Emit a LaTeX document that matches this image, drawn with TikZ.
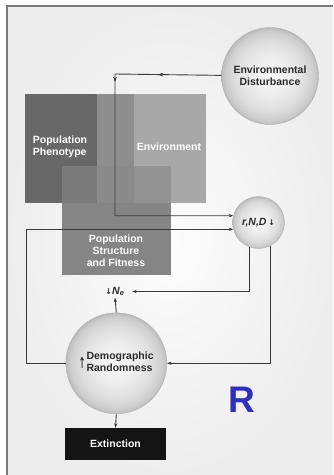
\documentclass[tikz,border=0pt]{standalone}
\usepackage{fontspec}
\usepackage{graphicx}
\setmainfont{Liberation Sans}
\newfontfamily\sym{DejaVu Sans}
\usetikzlibrary{arrows.meta,decorations.markings}
\definecolor{lnc}{HTML}{3A3A3A}
\definecolor{txc}{HTML}{2C2C2C}
\definecolor{phenc}{HTML}{686868}
\definecolor{envc}{HTML}{A8A8A8}
\definecolor{midc}{HTML}{8E8E8E}
\definecolor{strc}{HTML}{858585}
\definecolor{strphc}{HTML}{7A7A7A}
\definecolor{strmidc}{HTML}{8A8A8A}
\definecolor{strenvc}{HTML}{929292}
\definecolor{framec}{HTML}{7A7A7A}
\definecolor{rblue}{HTML}{2E2EC4}
\pgfdeclareradialshading{myball}{\pgfpoint{0bp}{0bp}}{%
  color(0bp)=(white!97!black); color(10bp)=(white!93!black);
  color(18bp)=(white!87!black); color(23bp)=(white!80!black);
  color(25bp)=(white!73!black); color(50bp)=(white!73!black)}
\tikzset{
  ln/.style={draw=lnc, line width=0.9pt},
  tip/.style={-{Stealth[length=4.5pt,width=3.2pt]}},
  circ/.style={circle, draw=gray!60, line width=0.4pt, inner sep=0pt,
    shading=myball, text=txc, align=center},
  sqbox/.style={rectangle, minimum width=109pt, minimum height=109pt, inner sep=0pt, draw=none},
  boxtext/.style={text=white, align=center, inner sep=0pt},
  midarrows/.style={postaction={decorate}, decoration={markings,
    mark=at position #1 with {\arrow{Stealth[length=4.5pt,width=3.2pt]}}}}
}
\begin{document}
\begin{tikzpicture}[x=1pt, y=-1pt, font=\fontsize{10.5}{12}\selectfont\bfseries]
\useasboundingbox (0,0) rectangle (333,475);
% background panel
\shade[inner color=white!98!gray, outer color=gray!14] (7,6) rectangle (333,475);
\draw[framec, line width=1.6pt] (7,475) -- (7,6) -- (333,6);

% boxes
\node[sqbox, fill=phenc] (phen) at (79.5,148.5) {};
\node[sqbox, fill=envc] (env) at (151.5,148.5) {};
\fill[midc] (env.north west) rectangle (phen.south east);
\node[sqbox, fill=strc] (str) at (116.5,220.5) {};
\fill[strphc] (str.north west) rectangle (env.south west);
\fill[strmidc] (env.west |- str.north) rectangle (phen.south east);
\fill[strenvc] (phen.east |- str.north) rectangle (str.east |- env.south);

\node[boxtext, align=left] (phent) at (60,147) {Population\\Phenotype};
\node[boxtext] (envt) at (169,146.5) {Environment};
\node[boxtext] (strt) at (116,251) {Population\\Structure\\and Fitness};

% circles
\node[circ, minimum size=97pt] (ed) at (270,76) {Environmental\\Disturbance};
\node[circ, minimum size=52pt] (rnd) at (258.5,222.5) {\textit{r,N,D}\,{\sym\footnotesize ↓}};
\node[circ, minimum size=101pt] (demo) at (116.3,363.3)
  {\raisebox{-0.5ex}{\scalebox{0.75}[1.45]{\sym ↑}}\hspace{1pt}\begin{tabular}{@{}l@{}}Demographic\\Randomness\end{tabular}};

% labels and extinction
\node[text=txc, inner sep=1.5pt] (ne) at (115,291.5) {{\sym\footnotesize ↓}\textit{N}\textsubscript{\textit{e}}};
\node[rectangle, fill=black!92, minimum width=101pt, minimum height=32pt, text=white] (ext) at (115.5,444) {Extinction};
\node[text=rblue, font=\fontsize{37}{40}\selectfont\bfseries] (rlab) at (241.5,400) {R};

% connectors
\coordinate (c1) at (115,74);
\coordinate (c2) at (c1 |- rnd.165);
\draw[ln, tip, midarrows=63pt, midarrows=114pt] (ed) -- (c1) -- (c2) -- (rnd.165);

\coordinate (c3) at (26,363.3);
\coordinate (c4) at (c3 |- rnd.195);
\draw[ln, tip] (demo.west) -- (c3) -- (c4) -- (rnd.195);

\coordinate (c5) at (rnd.249 |- ne);
\draw[ln, tip, shorten >=6pt] (rnd.249) -- (c5) -- (ne.east);

\coordinate (c6) at (rnd.296 |- demo.east);
\draw[ln, tip] (rnd.296) -- (c6) -- (demo.east);

\draw[ln, tip] (demo.north) -- (ne.south);
\draw[ln, tip] (demo.south) -- (ext.north);
\end{tikzpicture}
\end{document}
